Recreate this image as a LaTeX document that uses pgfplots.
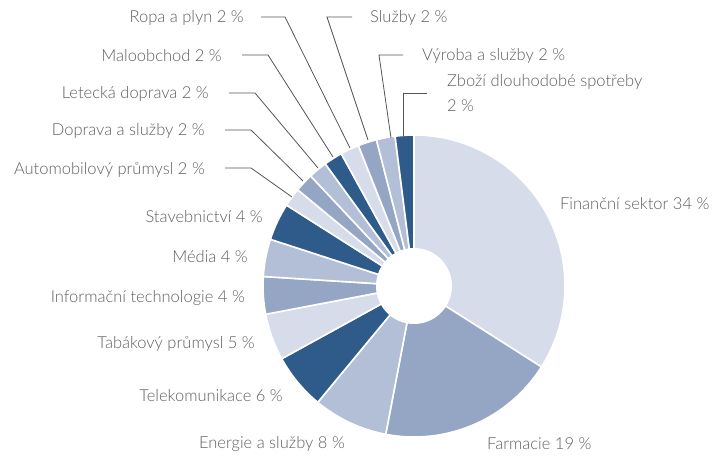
\documentclass[border=0pt]{standalone}
\usepackage{fontspec}
\setmainfont{Lato Light}
\usepackage{pgfplots}
\pgfplotsset{compat=1.18}
\definecolor{cA}{HTML}{D6DCEA}
\definecolor{cB}{HTML}{94A6C4}
\definecolor{cC}{HTML}{B3BFD6}
\definecolor{cD}{HTML}{2F5B8A}
\definecolor{txt}{HTML}{5E5E5E}
\definecolor{ldr}{HTML}{555555}
\tikzset{lbl/.style={font=\fontsize{16.5}{19}\selectfont, text=txt, inner sep=0pt}}
% cumulative shares in percent: start, end
\newcommand{\slice}[3]{%
  \fill[#3, draw=white, line width=1.6pt] (axis cs:414,286) -- ++({90-3.6*#1}:151pt)
    arc[start angle={90-3.6*#1}, end angle={90-3.6*#2}, radius=151pt] -- cycle;}
\begin{document}
\begin{tikzpicture}
\begin{axis}[x=1pt, y=1pt, y dir=reverse, xmin=0, xmax=716, ymin=0, ymax=457,
  hide axis, clip=false]
\path (axis cs:0,0) rectangle (axis cs:716,457);
% Finanční sektor 34, Farmacie 19, Energie 8, Telekom 6, Tabák 5, IT 4, Média 4,
% Stavebnictví 4, then eight slices of 2
\slice{0}{34}{cA}
\slice{34}{53}{cB}
\slice{53}{61}{cC}
\slice{61}{67}{cD}
\slice{67}{72}{cA}
\slice{72}{76}{cB}
\slice{76}{80}{cC}
\slice{80}{84}{cD}
\slice{84}{86}{cA}
\slice{86}{88}{cB}
\slice{88}{90}{cC}
\slice{90}{92}{cD}
\slice{92}{94}{cA}
\slice{94}{96}{cB}
\slice{96}{98}{cC}
\slice{98}{100}{cD}
\fill[white] (axis cs:414,286) circle[radius=38pt];
% leader lines
\draw[ldr, line width=0.8pt] (axis cs:261,17) -- (axis cs:285,17) -- (axis cs:350,148);
\draw[ldr, line width=0.8pt] (axis cs:352,17) -- (axis cs:327,17) -- (axis cs:368,140);
\draw[ldr, line width=0.8pt] (axis cs:403,55) -- (axis cs:379,55) -- (axis cs:391,138);
\draw[ldr, line width=0.8pt] (axis cs:427,93) -- (axis cs:403,93) -- (axis cs:403,136);
\draw[ldr, line width=0.8pt] (axis cs:242,55) -- (axis cs:268,55) -- (axis cs:333,157);
\draw[ldr, line width=0.8pt] (axis cs:229,93) -- (axis cs:255,93) -- (axis cs:318,168);
\draw[ldr, line width=0.8pt] (axis cs:225,130) -- (axis cs:251,130) -- (axis cs:303,181);
\draw[ldr, line width=0.8pt] (axis cs:225,168) -- (axis cs:251,168) -- (axis cs:292,197);
% labels
\node[lbl, anchor=west] at (axis cs:560,204) {Finanční sektor 34 \%};
\node[lbl, anchor=west] at (axis cs:487,444) {Farmacie 19 \%};
\node[lbl, anchor=east] at (axis cs:345,444) {Energie a služby 8 \%};
\node[lbl, anchor=east] at (axis cs:283,396) {Telekomunikace 6 \%};
\node[lbl, anchor=east] at (axis cs:255,344) {Tabákový průmysl 5 \%};
\node[lbl, anchor=east] at (axis cs:245,298) {Informační technologie 4 \%};
\node[lbl, anchor=east] at (axis cs:248,257) {Média 4 \%};
\node[lbl, anchor=east] at (axis cs:263,217) {Stavebnictví 4 \%};
\node[lbl, anchor=east] at (axis cs:205,170) {Automobilový průmysl 2 \%};
\node[lbl, anchor=east] at (axis cs:205,131) {Doprava a služby 2 \%};
\node[lbl, anchor=east] at (axis cs:209,94) {Letecká doprava 2 \%};
\node[lbl, anchor=east] at (axis cs:222,56) {Maloobchod 2 \%};
\node[lbl, anchor=east] at (axis cs:244,18) {Ropa a plyn 2 \%};
\node[lbl, anchor=west] at (axis cs:370,18) {Služby 2 \%};
\node[lbl, anchor=west] at (axis cs:422,56) {Výroba a služby 2 \%};
\node[lbl, anchor=west] at (axis cs:447,82) {Zboží dlouhodobé spotřeby};
\node[lbl, anchor=west] at (axis cs:447,106) {2 \%};
\end{axis}
\end{tikzpicture}
\end{document}
